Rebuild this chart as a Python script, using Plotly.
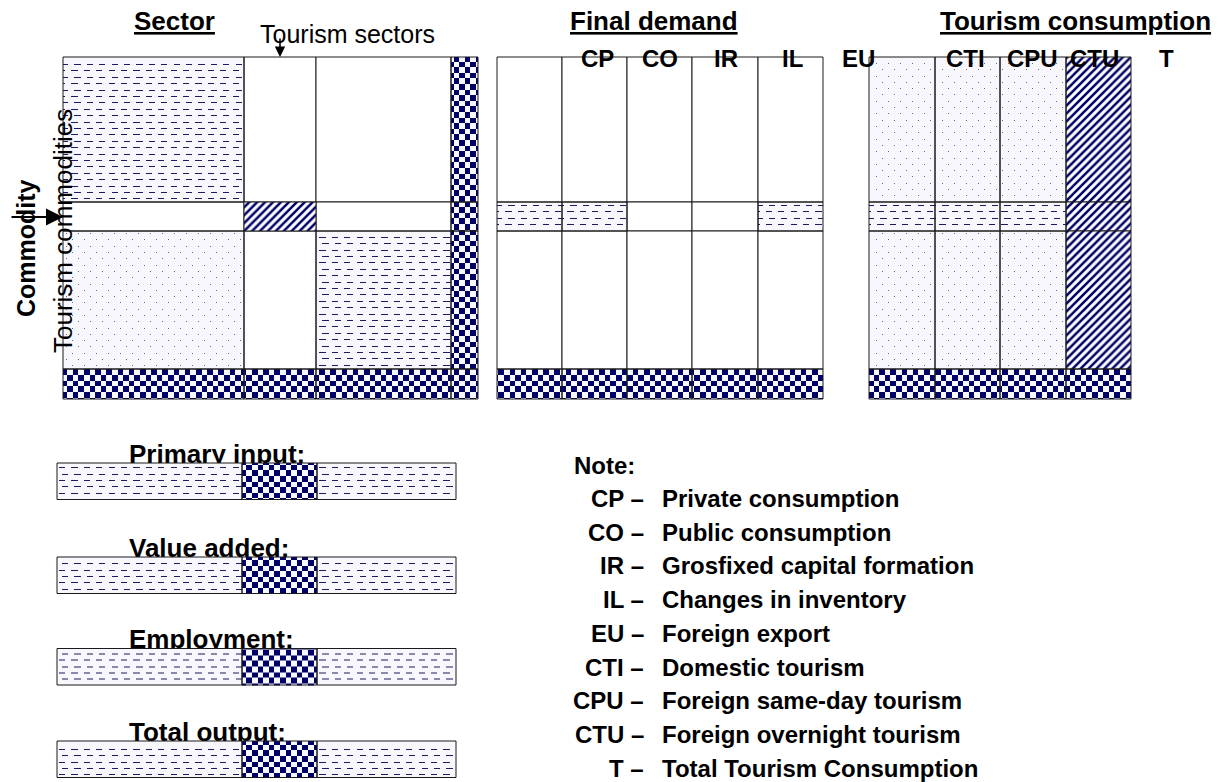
import numpy as np
import plotly.graph_objects as go

# ------------------------------------------------------------------
# Data: block structure of the tourism input-output diagram
# ------------------------------------------------------------------
sector_fill = [
    ["dash", "blank", "blank", "check"],
    ["blank", "diag", "blank", "check"],
    ["dot", "blank", "dash", "check"],
    ["check", "check", "check", "check"],
]
final_demand_fill = [
    ["blank", "blank", "blank", "blank", "blank"],
    ["dash", "dash", "blank", "blank", "dash"],
    ["blank", "blank", "blank", "blank", "blank"],
    ["check", "check", "check", "check", "check"],
]
tourism_fill = [
    ["dot", "dot", "dot", "diag"],
    ["dash", "dash", "dash", "diag"],
    ["dot", "dot", "dot", "diag"],
    ["check", "check", "check", "check"],
]
indicator_labels = ["Primary input:", "Value added:", "Employment:", "Total output:"]
indicator_fill = ["dash", "check", "dash"]

section_titles = ["Sector", "Final demand", "Tourism consumption"]
final_demand_codes = ["CP", "CO", "IR", "IL", "EU"]
tourism_codes = ["CTI", "CPU", "CTU", "T"]
note_codes = ["CP", "CO", "IR", "IL", "EU", "CTI", "CPU", "CTU", "T"]
note_texts = [
    "Private consumption",
    "Public consumption",
    "Grosfixed capital formation",
    "Changes in inventory",
    "Foreign export",
    "Domestic tourism",
    "Foreign same-day tourism",
    "Foreign overnight tourism",
    "Total Tourism Consumption",
]

# ------------------------------------------------------------------
# Layout geometry (pixel coordinates of the canvas)
# ------------------------------------------------------------------
W, H = 1227, 782
ROW_EDGES = [57, 202, 231, 369, 399]
SECTOR_COLS = [63, 244, 316, 451, 478]
FD_COLS = [497, 562, 627, 692, 758, 823]
TC_COLS = [869, 935, 1000, 1066, 1131]
IND_COLS = [57, 242, 317, 456]
IND_TOPS = [463, 557, 648.5, 741]
IND_H = 36.5
TITLE_X = [174, 654, 1075]
FD_LABEL_X = [597, 660, 726, 792, 858]
TC_LABEL_X = [965, 1032, 1094, 1166]
NOTE_Y = [498, 532, 565, 599, 633, 667, 700, 734, 768]

FONT = "Liberation Sans, Arial, sans-serif"
NAVY = "#000066"
LIGHT = "#f7f7fd"

# texture styles
CHECK_STEP = 5.6
DASH_DY, DASH_DX = 6.4, 3.1
DOT_DY, DOT_DX = 6.3, 6.0
TEXTURE_COLORS = {
    "check": ["#f8f8ff", NAVY],
    "dash": [LIGHT, "#1c1c5c"],
    "dot": [LIGHT, "#6a6a80"],
}
BAR_STYLES = {
    "blank": dict(color="white"),
    "diag": dict(color="white", pattern=dict(shape="/", fgcolor=NAVY, fgopacity=1,
                                             bgcolor="white", size=5.6, solidity=0.45)),
    "dash": dict(color="rgba(0,0,0,0)"),
    "dot": dict(color="rgba(0,0,0,0)"),
    "check": dict(color="rgba(0,0,0,0)"),
}

cells = {k: dict(x=[], w=[], base=[], h=[]) for k in BAR_STYLES}


def add_grid(fill, cols, rows):
    for i, row in enumerate(fill):
        for j, kind in enumerate(row):
            x0, x1 = cols[j], cols[j + 1]
            y0, y1 = rows[i], rows[i + 1]
            c = cells[kind]
            c["x"].append((x0 + x1) / 2)
            c["w"].append(x1 - x0)
            c["base"].append(y0)
            c["h"].append(y1 - y0)


add_grid(sector_fill, SECTOR_COLS, ROW_EDGES)
add_grid(final_demand_fill, FD_COLS, ROW_EDGES)
add_grid(tourism_fill, TC_COLS, ROW_EDGES)
for top in IND_TOPS:
    add_grid([indicator_fill], IND_COLS, [top, top + IND_H])


# ------------------------------------------------------------------
# texture helpers (fill styles drawn as heatmaps on a global grid)
# ------------------------------------------------------------------
def grid_edges(a, b, step):
    inner = [k * step for k in range(int(np.floor(a / step)) + 1, int(np.ceil(b / step)) + 1)
             if a + 0.6 < k * step < b - 0.6]
    return [a] + inner + [b]


def checker_tex(x0, x1, y0, y1):
    xe = grid_edges(x0, x1, CHECK_STEP)
    ye = grid_edges(y0, y1, CHECK_STEP)
    z = []
    for i in range(len(ye) - 1):
        ky = int(np.floor((ye[i] + ye[i + 1]) / 2 / CHECK_STEP))
        z.append([(int(np.floor((xe[j] + xe[j + 1]) / 2 / CHECK_STEP)) + ky) % 2
                  for j in range(len(xe) - 1)])
    return xe, ye, z


def band_rows(y0, y1, dy):
    ye, kinds = [y0], []
    k = int(np.floor(y0 / dy)) + 1
    while True:
        t = round(k * dy)
        if t < y0 + 1.5:
            k += 1
            continue
        if t + 1 > y1 - 1.5:
            break
        if t > ye[-1]:
            kinds.append(-1)
            ye.append(t)
        kinds.append(k)
        ye.append(t + 1)
        k += 1
    kinds.append(-1)
    ye.append(y1)
    return ye, kinds


def dash_tex(x0, x1, y0, y1):
    xe = grid_edges(x0, x1, DASH_DX)
    ye, kinds = band_rows(y0, y1, DASH_DY)
    z = []
    for k in kinds:
        if k < 0:
            z.append([0] * (len(xe) - 1))
        else:
            z.append([1 if (int(np.floor((xe[j] + xe[j + 1]) / 2 / DASH_DX)) + (k % 2)) % 4 < 2 else 0
                      for j in range(len(xe) - 1)])
    return xe, ye, z


def dot_tex(x0, x1, y0, y1):
    xe, cols = [x0], []
    m = int(np.floor(x0 / DOT_DX)) + 1
    while True:
        p = round(m * DOT_DX)
        if p < x0 + 1.5:
            m += 1
            continue
        if p + 1 > x1 - 1.5:
            break
        if p > xe[-1]:
            cols.append(-1)
            xe.append(p)
        cols.append(m)
        xe.append(p + 1)
        m += 1
    cols.append(-1)
    xe.append(x1)
    ye, kinds = band_rows(y0, y1, DOT_DY)
    z = []
    for k in kinds:
        z.append([1 if (k >= 0 and c >= 0 and (c + k) % 2 == 0) else 0 for c in cols])
    return xe, ye, z


TEXTURES = {"check": checker_tex, "dash": dash_tex, "dot": dot_tex}

fig = go.Figure()

# bar-label text sits on the base subplot so the bars cover its descenders
fig.add_trace(go.Scatter(
    x=[129] * len(indicator_labels),
    y=[t + 6 for t in IND_TOPS],
    mode="text",
    text=[f"<b>{s}</b>" for s in indicator_labels],
    textposition="top right",
    textfont=dict(family=FONT, size=26, color="black"),
    hoverinfo="skip", showlegend=False,
))

for kind, fn in TEXTURES.items():
    c = cells[kind]
    lo, hi = TEXTURE_COLORS[kind]
    for xc, w, y0, h in zip(c["x"], c["w"], c["base"], c["h"]):
        xe, ye, z = fn(xc - w / 2, xc + w / 2, y0, y0 + h)
        fig.add_trace(go.Heatmap(
            x=xe, y=ye, z=z, zmin=0, zmax=1, zsmooth=False,
            colorscale=[[0, lo], [1, hi]], showscale=False,
            hoverinfo="skip", xaxis="x2", yaxis="y2",
        ))

for kind, c in cells.items():
    if not c["x"]:
        continue
    marker = dict(BAR_STYLES[kind])
    marker["line"] = dict(color="#1a1a1a", width=1)
    fig.add_trace(go.Bar(
        x=c["x"], width=c["w"], base=c["base"], y=c["h"],
        marker=marker, hoverinfo="skip", showlegend=False,
        xaxis="x2", yaxis="y2",
    ))

ann = []


def text(t, x, y, size, bold=True, xanchor="center", angle=0):
    s = f"<b>{t}</b>" if bold else t
    ann.append(dict(text=s, x=x, y=y, xref="x", yref="y", showarrow=False,
                    xanchor=xanchor, yanchor="middle", textangle=angle,
                    font=dict(family=FONT, size=size, color="black")))


for t, xc in zip(section_titles, TITLE_X):
    text(f"<span style='text-decoration:underline'>{t}</span>", xc, 21, 26)

text("Tourism sectors", 258, 34, 25, bold=False, xanchor="left")
text("Commodity", 26, 248, 25, angle=-90)
text("Tourism commodities", 63, 231, 26, bold=False, angle=-90)

for code, xc in zip(final_demand_codes, FD_LABEL_X):
    text(code, xc, 58, 24)
for code, xc in zip(tourism_codes, TC_LABEL_X):
    text(code, xc, 58, 24)

text("Note:", 572, 465, 24, xanchor="left")
for code, desc, yy in zip(note_codes, note_texts, NOTE_Y):
    text(f"{code} –", 646, yy, 24, xanchor="right")
    text(desc, 660, yy, 24, xanchor="left")

# arrows
ann.append(dict(text="", x=280, y=57, ax=280, ay=37, xref="x", yref="y",
                axref="x", ayref="y", showarrow=True, arrowhead=2,
                arrowsize=1.3, arrowwidth=1.6, arrowcolor="black", standoff=0))
ann.append(dict(text="", x=63, y=217, ax=10, ay=217, xref="x", yref="y",
                axref="x", ayref="y", showarrow=True, arrowhead=2,
                arrowsize=1.7, arrowwidth=2, arrowcolor="black", standoff=0))

axis = dict(range=[0, W], visible=False, showgrid=False, zeroline=False, fixedrange=True)
yaxis = dict(range=[H, 0], visible=False, showgrid=False, zeroline=False, fixedrange=True)

fig.update_layout(
    width=W, height=H, autosize=False,
    margin=dict(l=0, r=0, t=0, b=0, pad=0),
    paper_bgcolor="white", plot_bgcolor="white",
    barmode="overlay", showlegend=False,
    xaxis=axis, yaxis=yaxis,
    xaxis2=dict(axis, overlaying="x"),
    yaxis2=dict(yaxis, overlaying="y"),
    annotations=ann,
)

fig.write_html("out.html", config={"displayModeBar": False},
               post_script="document.body.style.margin='0';document.body.style.overflow='hidden';")
